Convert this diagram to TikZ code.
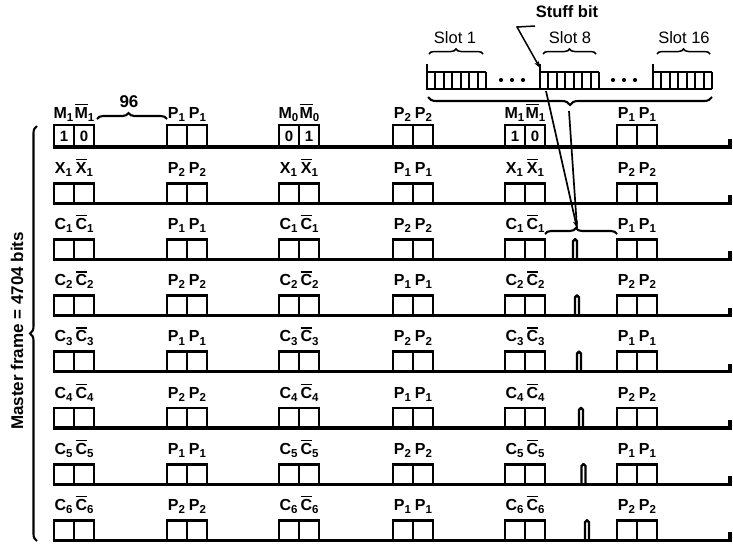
\documentclass[tikz,border=0pt]{standalone}
\usepackage{fontspec}
\setmainfont{Liberation Sans}
\usetikzlibrary{decorations.pathreplacing,arrows.meta}
\newcommand\barred[1]{{\setbox0\hbox{#1}\rlap{\raisebox{\dimexpr\ht0+1.8pt\relax}{\rule{\wd0}{1.5pt}}}\box0}}
\newcommand\lsub[1]{\raisebox{-3.2pt}{\fontsize{11.5}{12}\selectfont #1}}
\tikzset{
  bx/.style={line width=2.9pt, line join=miter},
  baseln/.style={line width=3.2pt},
  lab/.style={anchor=base, inner sep=0pt, font=\fontsize{16}{18}\selectfont\bfseries},
  digit/.style={inner sep=0pt, font=\fontsize{15}{17}\selectfont\bfseries},
  brc/.style={decorate, decoration={brace, amplitude=6pt}, line width=2.1pt},
  pulse/.style={line width=2.4pt, rounded corners=1.8pt},
  cell/.style={line width=1.9pt},
}
% pair of boxes: x, baseline, height, label A, label B, name, label offset
\newcommand\grp[7]{%
  \draw[bx] (#1,#2) rectangle (#1+40,#2-#3);
  \draw[bx] (#1+20,#2) -- (#1+20,#2-#3);
  \node[lab] (#6a) at (#1+9.5,#2-#3-#7) {#4};
  \node[lab] (#6b) at (#1+30.5,#2-#3-#7) {#5};
}
% row: baseline, letter, index, P index (groups 2,6), P index (group 4), name
\newcommand\crow[6]{%
  \draw[baseln] (52.6,#1) -- (730,#1) -- (730,#1-8);
  \grp{54}{#1}{20}{#2\lsub{#3}}{\barred{#2}\lsub{#3}}{#6g1}{10}
  \grp{279}{#1}{20}{#2\lsub{#3}}{\barred{#2}\lsub{#3}}{#6g3}{10}
  \grp{505}{#1}{20}{#2\lsub{#3}}{\barred{#2}\lsub{#3}}{#6g5}{10}
  \grp{167}{#1}{20}{P\lsub{#4}}{P\lsub{#4}}{#6g2}{10}
  \grp{393}{#1}{20}{P\lsub{#5}}{P\lsub{#5}}{#6g4}{10}
  \grp{617}{#1}{20}{P\lsub{#4}}{P\lsub{#4}}{#6g6}{10}
}
\newcommand\stuffpulse[2]{%
  \draw[pulse] (#1-2,#2) -- (#1-2,#2-20) -- (#1+2,#2-20) -- (#1+2,#2);
}
\begin{document}
\begin{tikzpicture}[x=1pt,y=-1pt]
\useasboundingbox (0,0) rectangle (733,544);
\fill[white] (0,0) rectangle (733,544);

% ---- row 1 (framing) ----
\draw[baseln] (52.6,147) -- (730,147) -- (730,139);
\grp{54}{147}{22}{M\lsub{1}}{\barred{M}\lsub{1}}{r1g1}{7}
\grp{279}{147}{22}{M\lsub{0}}{\barred{M}\lsub{0}}{r1g3}{7}
\grp{505}{147}{22}{M\lsub{1}}{\barred{M}\lsub{1}}{r1g5}{7}
\grp{167}{147}{22}{P\lsub{1}}{P\lsub{1}}{r1g2}{7}
\grp{393}{147}{22}{P\lsub{2}}{P\lsub{2}}{r1g4}{7}
\grp{617}{147}{22}{P\lsub{1}}{P\lsub{1}}{r1g6}{7}
\node[digit] (d1) at (64,136) {1};
\node[digit] (d2) at (84,136) {0};
\node[digit] (d3) at (289,136) {0};
\node[digit] (d4) at (309,136) {1};
\node[digit] (d5) at (515,136) {1};
\node[digit] (d6) at (535,136) {0};
\draw[brc, decoration={brace, amplitude=6pt, aspect=0.45}] (97,119) -- (167,119);
\node[lab, font=\fontsize{17}{19}\selectfont\bfseries] (n96) at (129,107) {96};

% ---- rows 2..8 ----
\crow{203.2}{X}{1}{2}{1}{r2}
\crow{259.4}{C}{1}{1}{2}{r3}
\crow{315.6}{C}{2}{2}{1}{r4}
\crow{371.8}{C}{3}{1}{2}{r5}
\crow{428}{C}{4}{2}{1}{r6}
\crow{484.2}{C}{5}{1}{2}{r7}
\crow{540.4}{C}{6}{2}{1}{r8}

\stuffpulse{575}{259.4}
\stuffpulse{577}{315.6}
\stuffpulse{579}{371.8}
\stuffpulse{581}{428}
\stuffpulse{583.5}{484.2}
\stuffpulse{587}{540.4}
\draw[brc, decoration={brace, amplitude=6pt, aspect=0.43}] (545,234) -- (617,234);
\coordinate (c3) at (577,228);

% ---- master frame brace ----
\draw[brc, decoration={brace, amplitude=7pt}] (37,541) -- (37,126);
\node[rotate=90, inner sep=0pt, font=\fontsize{17}{19}\selectfont\bfseries] (mf) at (17,331) {Master frame = 4704 bits};

% ---- slot frame ----
\draw[line width=2.6pt] (427,89) -- (712,89);
\foreach \sx/\sn in {427/a,540/b,653/c}{
  \draw[line width=2.4pt] (\sx,90) -- (\sx,64);
  \draw[cell] (\sx,72) -- (\sx+59,72);
  \foreach \k in {1,...,7}{
    \draw[cell] (\sx+8.43*\k,72) -- (\sx+8.43*\k,89);
  }
}
\foreach \dx in {501,512,523,613,624,635}{
  \fill (\dx,80) circle (2.1);
}
\draw[brc, line width=1.5pt, decoration={brace, amplitude=5pt}] (429,54) -- (483,54);
\draw[brc, line width=1.5pt, decoration={brace, amplitude=5pt}] (543,54) -- (596,54);
\draw[brc, line width=1.5pt, decoration={brace, amplitude=5pt}] (657,54) -- (710,54);
\node[inner sep=0pt, font=\fontsize{16.5}{18}\selectfont] (s1) at (455,38) {Slot 1};
\node[inner sep=0pt, font=\fontsize{16.5}{18}\selectfont] (s8) at (570,38) {Slot 8};
\node[inner sep=0pt, font=\fontsize{16.5}{18}\selectfont] (s16) at (684,38) {Slot 16};
\node[inner sep=0pt, font=\fontsize{16.5}{18}\selectfont\bfseries] (stuff) at (567,12) {Stuff bit};
\coordinate (sb1) at (535,26);
\coordinate (sb2) at (517,27);
\coordinate (sbtip) at (540,68);
\draw[line width=1.5pt, -{Stealth[length=7pt,width=5pt]}] (sb1) -- (sb2) -- (sbtip);

% big brace under slot frame
\draw[brc, decoration={brace, amplitude=8pt}] (712,97) -- (428,97);
\coordinate (t1) at (546,91);
\coordinate (t2) at (569,111);
\draw[line width=1.7pt, -{Stealth[length=7pt,width=5pt]}] (t1) -- (c3);
\draw[line width=1.7pt] (t2) -- (c3);
\end{tikzpicture}
\end{document}
